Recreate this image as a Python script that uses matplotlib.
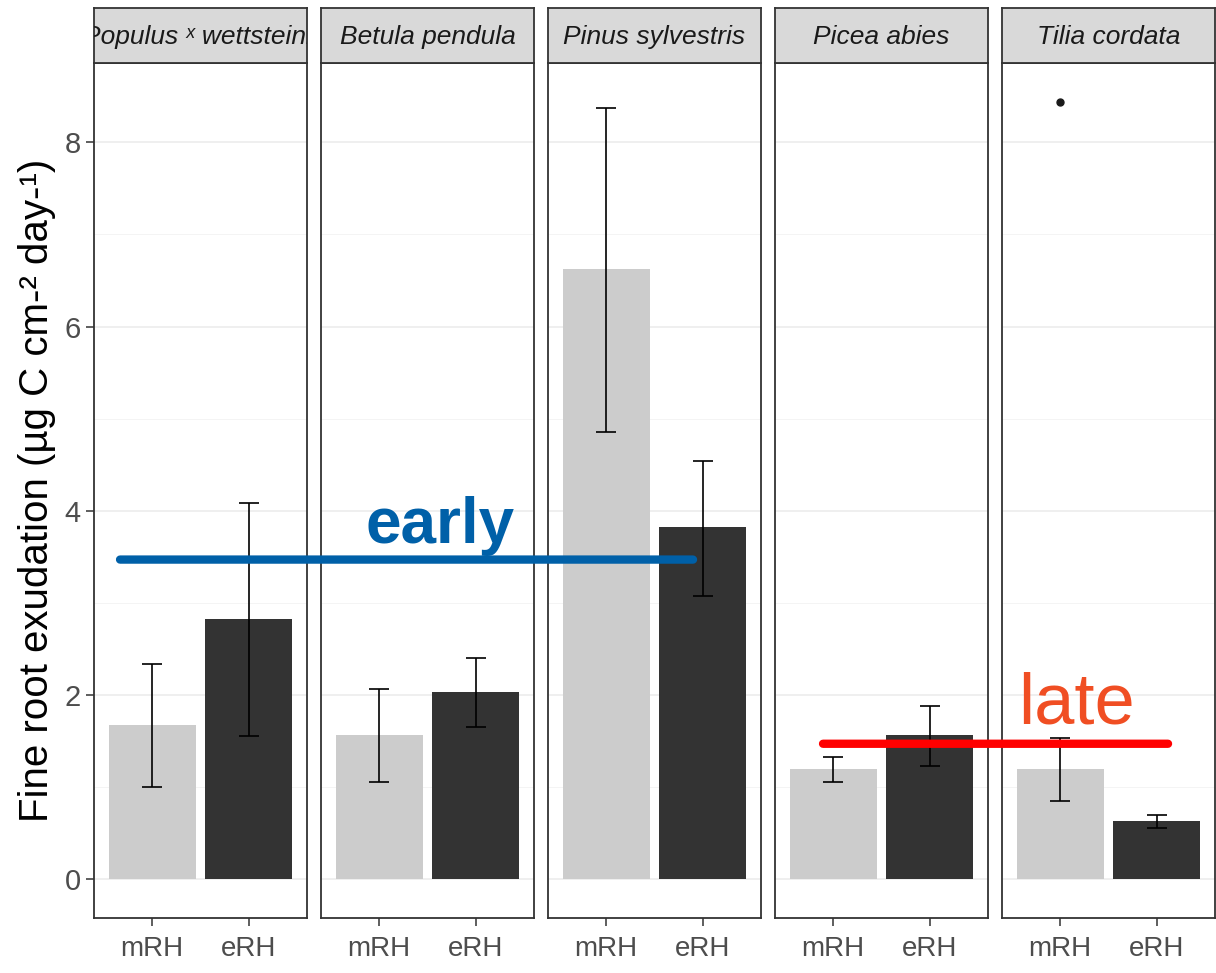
import matplotlib
matplotlib.use('Agg')
import matplotlib.pyplot as plt
from matplotlib.patches import ConnectionPatch
import numpy as np

plt.rcParams.update({
    'font.family': ['Liberation Sans', 'DejaVu Sans'],
})

# Data
species = ['Populus ˣ wettsteinii', 'Betula pendula', 'Pinus sylvestris',
           'Picea abies', 'Tilia cordata']
treatments = ['mRH', 'eRH']
means = [[1.67, 2.82], [1.56, 2.03], [6.63, 3.82], [1.20, 1.56], [1.20, 0.63]]
err_hi = [[2.34, 4.08], [2.06, 2.40], [8.37, 4.54], [1.33, 1.88], [1.53, 0.70]]
err_lo = [[1.00, 1.55], [1.06, 1.65], [4.85, 3.07], [1.06, 1.23], [0.85, 0.56]]
# outlier point (Tilia cordata, mRH)
outlier_panel = 4
outlier_x = 'mRH'
outlier_y = 8.44

# annotation lines
early_y = 3.47
late_y = 1.47

bar_colors = ['#CCCCCC', '#333333']
ylim = (-0.422, 8.862)

W, H = 1216, 973
fig = plt.figure(figsize=(W / 100, H / 100), dpi=100)

lefts = [94, 321, 548, 775, 1002]
pw = 213
bottom, top, strip_top = 918, 63, 8

axes = []
for i, sp in enumerate(species):
    ax = fig.add_axes([lefts[i] / W, 1 - bottom / H, pw / W, (bottom - top) / H])
    strip = fig.add_axes([lefts[i] / W, 1 - top / H, pw / W, (top - strip_top) / H])
    x = np.arange(1, 3)
    m = np.array(means[i])
    hi = np.array(err_hi[i])
    lo = np.array(err_lo[i])
    ax.bar(x, m, width=0.9, color=bar_colors, zorder=2)
    ax.errorbar(x, m, yerr=[m - lo, hi - m], fmt='none', ecolor='black',
                elinewidth=1.2, capsize=7, capthick=1.2, zorder=3)
    if i == outlier_panel:
        ax.plot(treatments.index(outlier_x) + 1, outlier_y, 'o',
                color='#1A1A1A', markersize=5, zorder=4)
    ax.set_xlim(0.4, 2.6)
    ax.set_ylim(*ylim)
    ax.set_xticks(x)
    ax.set_xticklabels(treatments)
    ax.set_yticks([0, 2, 4, 6, 8])
    ax.set_yticks([1, 3, 5, 7], minor=True)
    ax.grid(True, axis='y', which='major', color='#EBEBEB', linewidth=1.1, zorder=0)
    ax.grid(True, axis='y', which='minor', color='#F2F2F2', linewidth=0.6, zorder=0)
    ax.tick_params(axis='x', colors='#333333', labelcolor='#4D4D4D',
                   labelsize=20, length=6, width=1.1, pad=7)
    ax.tick_params(axis='y', which='major', colors='#333333',
                   labelcolor='#4D4D4D', labelsize=21, length=6, width=1.1)
    ax.tick_params(axis='y', which='minor', length=0)
    if i > 0:
        ax.tick_params(axis='y', which='major', left=False, labelleft=False)
    for s in ax.spines.values():
        s.set_color('#333333')
        s.set_linewidth(1.3)
    ax.set_axisbelow(True)

    strip.set_facecolor('#D9D9D9')
    strip.set_xticks([])
    strip.set_yticks([])
    for s in strip.spines.values():
        s.set_color('#333333')
        s.set_linewidth(1.3)
    strip.text(0.5, 0.48, sp, transform=strip.transAxes, ha='center',
               va='center', fontsize=19, style='italic', color='#1A1A1A',
               clip_on=True)
    axes.append(ax)

axes[0].set_ylabel('Fine root exudation (µg C cm-² day-¹)', fontsize=29,
                   color='black', labelpad=6)

# annotation lines across panels
con = ConnectionPatch(xyA=(0.669, early_y), coordsA=axes[0].transData,
                      xyB=(1.898, early_y), coordsB=axes[2].transData,
                      color='#0060A8', linewidth=6, zorder=10)
fig.add_artist(con)
con = ConnectionPatch(xyA=(0.896, late_y), coordsA=axes[3].transData,
                      xyB=(2.115, late_y), coordsB=axes[4].transData,
                      color='#FF0000', linewidth=6, zorder=10)
fig.add_artist(con)

axes[1].text(1.63, 3.65, 'early', color='#0060A8', fontsize=46,
             fontweight='bold', ha='center', va='baseline', clip_on=False,
             zorder=11)
axes[4].text(1.17, 1.69, 'late', color='#F04E23', fontsize=52,
             ha='center', va='baseline', clip_on=False, zorder=11)

fig.savefig('out.png', dpi=100)
